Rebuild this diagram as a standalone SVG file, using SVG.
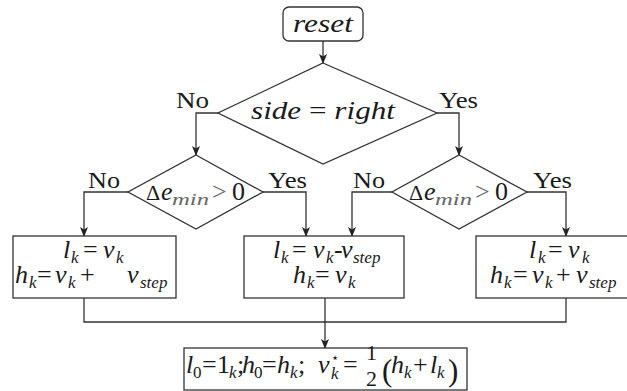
<svg xmlns="http://www.w3.org/2000/svg" width="627" height="391" viewBox="0 0 627 391" font-family="Liberation Serif, DejaVu Serif, serif">
<defs>
<marker id="ah" markerWidth="10" markerHeight="8" refX="9" refY="4" orient="auto" markerUnits="userSpaceOnUse">
<path d="M0,0 L10,4 L0,8 L2.5,4 Z" fill="#222"/>
</marker>
</defs>
<style>
.shape{fill:#fff;stroke:#333;stroke-width:1.3}
.con{fill:none;stroke:#333;stroke-width:1.3}
.t{fill:#1a1a1a;font-size:26px}
.i{font-style:italic}
.s{font-size:17px;font-style:italic}
.d{font-size:17px}
.lab{fill:#1a1a1a;font-size:24px}
.g{fill:#666}
.dl{font-size:22px}
</style>
<rect width="627" height="391" fill="#fff"/>

<g id="connectors">
<line class="con" x1="323" y1="41" x2="323" y2="63" marker-end="url(#ah)"/>
<polyline class="con" points="218,113 196,113 196,155" marker-end="url(#ah)"/>
<polyline class="con" points="437,113 459,113 459,155" marker-end="url(#ah)"/>
<polyline class="con" points="128,192 84,192 84,236" marker-end="url(#ah)"/>
<polyline class="con" points="263,192 306,192 306,236" marker-end="url(#ah)"/>
<polyline class="con" points="392,192 352,192 352,236" marker-end="url(#ah)"/>
<polyline class="con" points="527,192 566,192 566,236" marker-end="url(#ah)"/>
<polyline class="con" points="84,298 84,322 566,322 566,298"/>
<line class="con" x1="325" y1="298" x2="325" y2="348" marker-end="url(#ah)"/>
<text class="lab" x="176" y="108" textLength="33" lengthAdjust="spacingAndGlyphs">No</text>
<text class="lab" x="439" y="108" textLength="39" lengthAdjust="spacingAndGlyphs">Yes</text>
<text class="lab" x="88" y="188" textLength="32" lengthAdjust="spacingAndGlyphs">No</text>
<text class="lab" x="268" y="188" textLength="39" lengthAdjust="spacingAndGlyphs">Yes</text>
<text class="lab" x="353" y="188" textLength="32" lengthAdjust="spacingAndGlyphs">No</text>
<text class="lab" x="533" y="188" textLength="39" lengthAdjust="spacingAndGlyphs">Yes</text>
</g>

<g id="reset">
<rect class="shape" x="283" y="7" width="80" height="34" rx="6"/>
<text class="t i" x="293" y="32" textLength="60" lengthAdjust="spacingAndGlyphs">reset</text>
</g>

<g id="side-decision">
<polygon class="shape" points="323,63 437,113 323,164 218,113"/>
<text class="t" x="251" y="119" textLength="144" lengthAdjust="spacingAndGlyphs"><tspan class="i">side</tspan> = <tspan class="i">right</tspan></text>
</g>

<g id="left-decision">
<polygon class="shape" points="196,155 263,192 196,229 128,192"/>
<text class="t"><tspan class="dl" x="146" y="200">Δ</tspan><tspan class="i" x="161" y="200">e</tspan><tspan class="s g" x="172" y="205" textLength="37" lengthAdjust="spacingAndGlyphs">min</tspan><tspan class="g" x="212" y="200">&gt;</tspan><tspan x="232" y="200">0</tspan></text>
</g>

<g id="right-decision">
<polygon class="shape" points="459,155 527,192 459,229 392,192"/>
<text class="t"><tspan class="dl" x="409" y="200">Δ</tspan><tspan class="i" x="424" y="200">e</tspan><tspan class="s g" x="435" y="205" textLength="37" lengthAdjust="spacingAndGlyphs">min</tspan><tspan class="g" x="475" y="200">&gt;</tspan><tspan x="495" y="200">0</tspan></text>
</g>

<g id="box-left">
<rect class="shape" x="13" y="236" width="163" height="62"/>
<text class="t"><tspan class="i" x="63" y="258">l</tspan><tspan class="s" x="71" y="263">k</tspan><tspan x="83" y="258">=</tspan><tspan class="i" x="103" y="258">v</tspan><tspan class="s" x="116" y="263">k</tspan></text>
<text class="t"><tspan class="i" x="15" y="283">h</tspan><tspan class="s" x="29" y="288">k</tspan><tspan x="37" y="283">=</tspan><tspan class="i" x="55" y="283">v</tspan><tspan class="s" x="68" y="288">k</tspan><tspan x="80" y="283">+</tspan><tspan class="i" x="127" y="283">v</tspan><tspan class="s" x="140" y="288">step</tspan></text>
</g>

<g id="box-middle">
<rect class="shape" x="244" y="236" width="160" height="62"/>
<text class="t"><tspan class="i" x="273" y="258">l</tspan><tspan class="s" x="281" y="263">k</tspan><tspan x="292" y="258">=</tspan><tspan class="i" x="313" y="258">v</tspan><tspan class="s" x="326" y="263">k</tspan><tspan x="334" y="258">-</tspan><tspan class="i" x="341" y="258">v</tspan><tspan class="s" x="353" y="263">step</tspan></text>
<text class="t"><tspan class="i" x="293" y="283">h</tspan><tspan class="s" x="307" y="288">k</tspan><tspan x="315" y="283">=</tspan><tspan class="i" x="335" y="283">v</tspan><tspan class="s" x="348" y="288">k</tspan></text>
</g>

<g id="box-right">
<rect class="shape" x="476" y="236" width="180" height="62"/>
<text class="t"><tspan class="i" x="529" y="258">l</tspan><tspan class="s" x="538" y="263">k</tspan><tspan x="548" y="258">=</tspan><tspan class="i" x="568" y="258">v</tspan><tspan class="s" x="582" y="263">k</tspan></text>
<text class="t"><tspan class="i" x="490" y="283">h</tspan><tspan class="s" x="504" y="288">k</tspan><tspan x="513" y="283">=</tspan><tspan class="i" x="532" y="283">v</tspan><tspan class="s" x="545" y="288">k</tspan><tspan x="556" y="283">+</tspan><tspan class="i" x="576" y="283">v</tspan><tspan class="s" x="589" y="288">step</tspan></text>
</g>

<g id="result">
<rect class="shape" x="184" y="348" width="283" height="42"/>
<text class="t"><tspan class="i" x="186" y="373">l</tspan><tspan class="d" x="193" y="378">0</tspan><tspan x="202" y="373">=</tspan><tspan x="217" y="373">1</tspan><tspan class="s" x="229" y="378">k</tspan><tspan x="237" y="373">;</tspan><tspan class="i" x="242" y="373">h</tspan><tspan class="d" x="254" y="378">0</tspan><tspan x="262" y="373">=</tspan><tspan class="i" x="277" y="373">h</tspan><tspan class="s" x="290" y="378">k</tspan><tspan x="298" y="373">;</tspan><tspan class="i" x="318" y="373">v</tspan><tspan class="s" x="331" y="379">k</tspan><tspan x="343" y="373">=</tspan><tspan x="366" y="360" style="font-size:22px">1</tspan><tspan x="366" y="386" style="font-size:22px">2</tspan><tspan x="382" y="381" style="font-size:31px">(</tspan><tspan class="i" x="391" y="373">h</tspan><tspan class="s" x="404" y="378">k</tspan><tspan x="413" y="373">+</tspan><tspan class="i" x="430" y="373">l</tspan><tspan class="s" x="437" y="378">k</tspan><tspan x="448" y="381" style="font-size:31px">)</tspan></text>
<text x="331" y="362" font-family="DejaVu Sans, sans-serif" style="font-size:13px;fill:#1a1a1a">⋆</text>
</g>
</svg>
